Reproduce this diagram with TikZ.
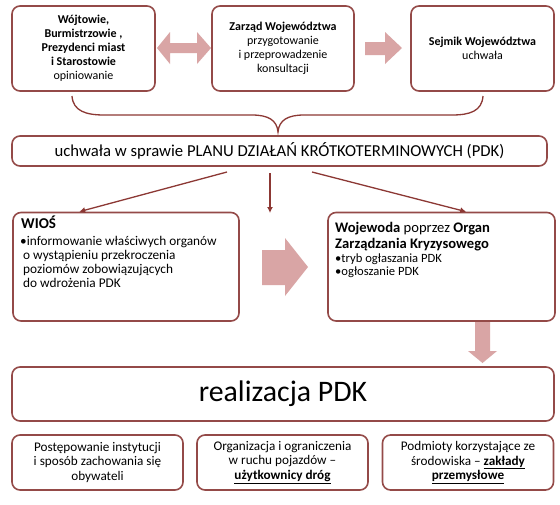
\documentclass[tikz,border=0pt]{standalone}
\usepackage{fontspec}
\setmainfont{Carlito}
\usetikzlibrary{calc,arrows.meta}
\definecolor{bord}{RGB}{148,74,72}
\definecolor{afill}{RGB}{217,165,165}
\definecolor{conn}{RGB}{140,56,52}
\begin{document}
\begin{tikzpicture}[x=1pt,y=-1pt,
  box/.style={draw=bord,line width=1.6pt,rounded corners=8pt,fill=white,inner sep=0pt},
  topbox/.style={box,minimum width=143pt,minimum height=85pt,align=center,font=\fontsize{12}{14}\selectfont},
  midbox/.style={box,minimum height=108.5pt},
  botbox/.style={box,minimum width=171pt,minimum height=55pt,align=center,font=\fontsize{13.2}{14.5}\selectfont},
  txt/.style={inner sep=0pt,align=left,anchor=north west},
  connline/.style={draw=conn,line width=1.3pt},
  connarrow/.style={connline,-{Latex[length=6pt,width=6pt]}},
  blockarrow/.style={fill=afill}
]
\useasboundingbox (0,0) rectangle (560,504);
\fill[white] (0,0) rectangle (560,504);

% top row
\node[topbox] (wojt) at (83.5,48.5) {\textbf{Wójtowie,}\\\textbf{Burmistrzowie ,}\\\textbf{Prezydenci miast}\\\textbf{i Starostowie}\\opiniowanie};
\node[topbox,minimum width=142pt] (zarz) at (283,48.5) {\textbf{Zarząd Województwa}\\przygotowanie\\i przeprowadzenie\\konsultacji};
\node[topbox] (sejm) at (482.5,48.5) {\textbf{Sejmik Województwa}\\uchwała};

% block arrows top
\fill[blockarrow] (157,48) -- (170,32) -- (170,43) -- (197,43) -- (197,32) -- (211,48) -- (197,64) -- (197,53) -- (170,53) -- (170,64) -- cycle;
\fill[blockarrow] (365,42) -- (385,42) -- (385,32) -- (402,48) -- (385,64) -- (385,55) -- (365,55) -- cycle;

% brace
\draw[connline] (72,96) .. controls (73,111) and (86,115) .. (104,115) -- (252,115)
  .. controls (268,115) and (277,120) .. (278,132)
  .. controls (279,120) and (288,115) .. (304,115) -- (452,115)
  .. controls (470,115) and (482,111) .. (483,96);

% PDK bar
\node[box,minimum width=535pt,minimum height=30pt,font=\fontsize{16.7}{19}\selectfont] (pdk) at (279.5,151) {uchwała w sprawie PLANU DZIAŁAŃ KRÓTKOTERMINOWYCH (PDK)};

% middle boxes
\node[midbox,minimum width=226pt] (wios) at (126,266.75) {};
\node[midbox,minimum width=227pt] (woj) at (441.5,266.75) {};

\node[txt,anchor=base west,font=\fontsize{15}{16}\selectfont\bfseries] (wiost) at (21,228) {WIOŚ};
\node[txt,font=\fontsize{13.3}{14}\selectfont] (wiosb) at (20,236) {•informowanie właściwych organów\\
\hspace*{3pt}o wystąpieniu przekroczenia\\
\hspace*{3pt}poziomów zobowiązujących\\
\hspace*{3pt}do wdrożenia PDK};

\node[txt,font=\fontsize{14.6}{16}\selectfont] (wojt1) at (335,222) {\textbf{Wojewoda} poprzez \textbf{Organ}\\\textbf{Zarządzania Kryzysowego}};
\node[txt,font=\fontsize{12.6}{12.5}\selectfont] (wojb) at (335,254) {•tryb ogłaszania PDK\\•ogłoszanie PDK};

% connectors from PDK
\coordinate (s1) at (227,172);
\coordinate (s2) at (270,173);
\coordinate (e2) at (270,213);
\coordinate (s3) at (312,172);
\draw[connarrow] (s1) -- ($(wios.north west)+(67,0)$);
\draw[connarrow] (s2) -- (e2);
\draw[connarrow] (s3) -- ($(woj.north west)+(139,0)$);

% big arrows
\fill[blockarrow] (262,250) -- (285,250) -- (285,238) -- (308,267) -- (285,296) -- (285,285) -- (262,285) -- cycle;
\fill[blockarrow] (475,322) -- (490,322) -- (490,351) -- (497,351) -- (482.5,363) -- (468,351) -- (475,351) -- cycle;

% realization
\node[box,minimum width=542pt,minimum height=54pt,font=\fontsize{29.8}{32}\selectfont] (real) at (283,394) {realizacja PDK};

% bottom row
\node[botbox] (bA) at (97.5,462.5) {Postępowanie instytucji\\i sposób zachowania się\\obywateli};
\node[botbox] (bB) at (282.5,462.5) {Organizacja i ograniczenia\\w ruchu pojazdów –\\\underline{\textbf{użytkownicy dróg}}};
\node[botbox] (bC) at (468,462.5) {Podmioty korzystające ze\\środowiska – \underline{\textbf{zakłady}}\\\underline{\textbf{przemysłowe}}};
\end{tikzpicture}
\end{document}
